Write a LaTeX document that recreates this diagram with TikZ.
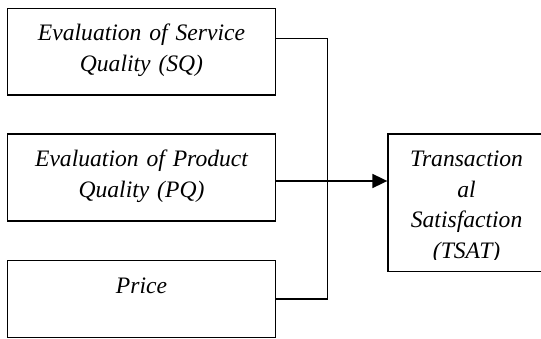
\documentclass[tikz,border=0pt]{standalone}
\usepackage{fontspec}
\setmainfont{Liberation Serif}
\usetikzlibrary{arrows.meta}
\tikzset{
  box/.style={draw=black, line width=1.3pt, rectangle, inner sep=0pt},
  txt/.style={font=\fontsize{23.6}{30.5}\selectfont\itshape, align=center, text width=262pt, inner sep=0pt, anchor=base},
  conn/.style={draw=black, line width=1.3pt},
  arr/.style={draw=black, line width=1.8pt, -{Triangle[length=15pt,width=14pt]}}
}
\begin{document}
\begin{tikzpicture}[x=1pt,y=-1pt]
\useasboundingbox (0,0) rectangle (541,339);
\clip (0,0) rectangle (541,339);
% boxes
\node[box, minimum width=268pt, minimum height=86.7pt] (sq) at (141.5,51.65) {};
\node[box, minimum width=268pt, minimum height=87pt] (pq) at (141.5,177.5) {};
\node[box, minimum width=268pt, minimum height=77pt] (price) at (141.5,299.2) {};
\node[box, minimum width=157pt, minimum height=137.7pt] (tsat) at (466.5,202.85) {};
% texts
\node[txt] (sqt) at (141.5,40.6) {Evaluation of Service\\Quality (SQ)};
\node[txt] (pqt) at (141.5,166.7) {Evaluation of Product\\Quality (PQ)};
\node[txt] (pricet) at (141.5,294) {Price};
\begin{scope}
\clip (388,134) rectangle (545,260);
\node[txt, text width=150pt] (tsatt) at (466.6,166.9) {Transaction\\al\\Satisfaction\\(TSAT)};
\end{scope}
% connectors
\coordinate (jtop) at (327.3,38.3);
\coordinate (jbot) at (327.3,299);
\coordinate (jmid) at (327.3,181);
\draw[conn] (sq.east |- jtop) -- (jtop) -- (jbot) -- (price.east |- jbot);
\draw[arr] (pq.east |- jmid) -- (tsat.west |- jmid);
\end{tikzpicture}
\end{document}
